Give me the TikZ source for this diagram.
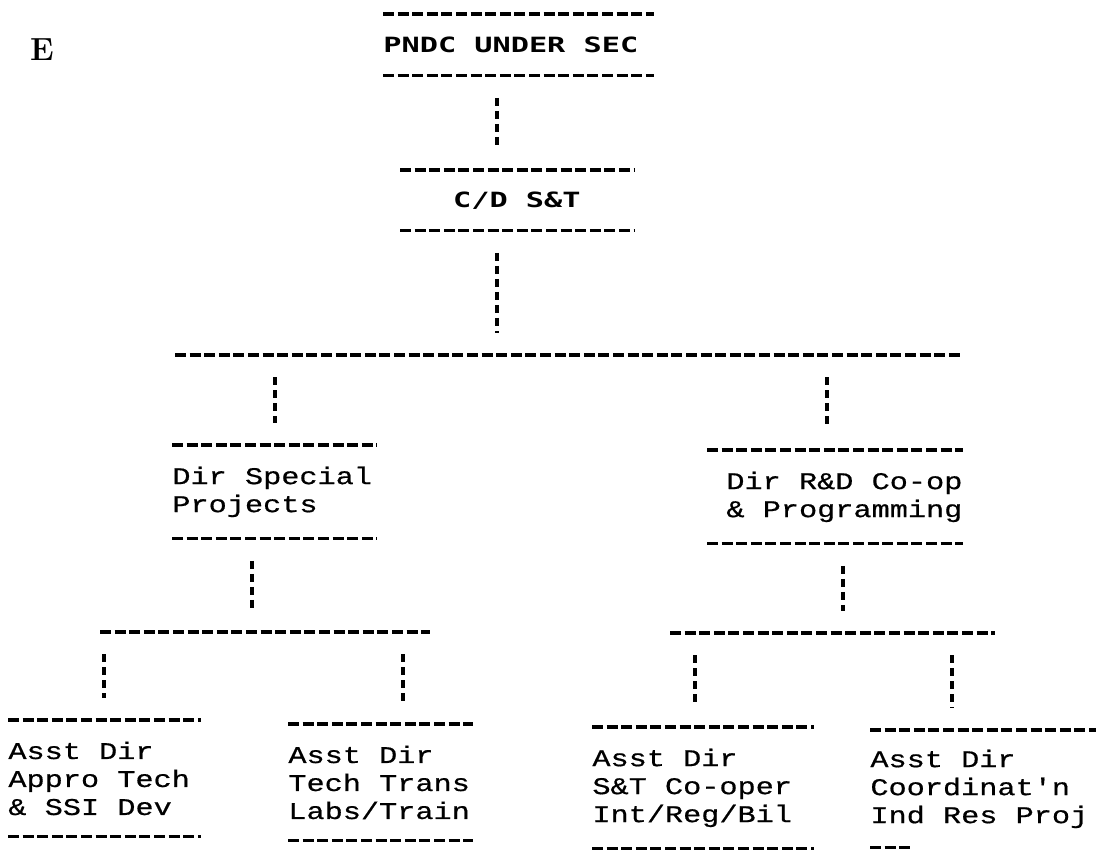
\documentclass[tikz,border=0pt]{standalone}
\usepackage{fontspec}
\newfontfamily\printfont[FakeStretch=1.26, FakeBold=0.6]{Liberation Mono}
\newfontfamily\headfont[FakeStretch=1.44]{DejaVu Sans Mono}
\begin{document}
\begin{tikzpicture}[x=0.5pt, y=-0.5pt,
  rule/.style={line width=1.6pt, dash pattern=on 5.5pt off 1.8pt},
  link/.style={line width=1.6pt, dash pattern=on 4pt off 2.5pt, shorten <=11pt, shorten >=11pt},
  post/.style={anchor=north west, inner xsep=0pt, inner ysep=0pt, align=left,
    font=\printfont\fontsize{12}{14}\selectfont, execute at begin node={\spaceskip=9.1pt\relax}},
  head/.style={post, font=\headfont\bfseries\fontsize{10.5}{13}\selectfont}]
\useasboundingbox (0,0) rectangle (1096,853);
\node[font=\bfseries\fontsize{16}{18}\selectfont] (mark) at (42,50) {E};
\node[head, text width=135pt, minimum height=30.5pt] (pndc) at (383,14) {PNDC UNDER SEC};
\node[head, align=center, text width=116.5pt, minimum height=30pt] (cd) at (400,170) {C/D S\&T};
\node[post, text width=102pt, minimum height=46.5pt] (spec) at (172,445) {Dir Special\\Projects};
\node[post, align=right, text width=127.5pt, minimum height=46.5pt] (rd) at (707,450) {Dir R\&D Co-op\\\& Programming};
\node[post, text width=96pt, minimum height=58pt] (appro) at (8,720) {Asst Dir\\Appro Tech\\\& SSI Dev};
\node[post, text width=92pt, minimum height=58pt] (trans) at (288,724) {Asst Dir\\Tech Trans\\Labs/Train};
\node[post, text width=110.5pt, minimum height=60.5pt] (coop) at (592,727) {Asst Dir\\S\&T Co-oper\\Int/Reg/Bil};
\node[post, text width=113pt, minimum height=58.5pt] (coord) at (870,730) {Asst Dir\\Coordinat'n\\Ind Res Proj};
\foreach \n in {pndc,cd,spec,rd,appro,trans,coop,coord}
  \draw[rule] (\n.north west) -- (\n.north east);
\foreach \n in {pndc,cd,spec,rd,appro,trans,coop}
  \draw[rule] (\n.south west) -- (\n.south east);
\draw[rule] (coord.south west) -- ++(40,0);
\coordinate (hub1) at (497,355);
\coordinate (hub2) at (252,632);
\coordinate (hub3) at (843,633);
\coordinate (d1) at (275,355);
\coordinate (d2) at (827,355);
\coordinate (d3) at (104,632);
\coordinate (d4) at (403,632);
\coordinate (d5) at (695,633);
\coordinate (d6) at (952,633);
\draw[rule] (175,355) -- (962,355);
\draw[rule] (100,632) -- (430,632);
\draw[rule] (670,633) -- (995,633);
\draw[link] (pndc.south -| hub1) -- (cd.north -| hub1);
\draw[link] (cd.south -| hub1) -- (hub1);
\draw[link] (d1) -- (spec.north -| d1);
\draw[link] (d2) -- (rd.north -| d2);
\draw[link] (spec.south -| hub2) -- (hub2);
\draw[link] (rd.south -| hub3) -- (hub3);
\draw[link] (d3) -- (appro.north -| d3);
\draw[link] (d4) -- (trans.north -| d4);
\draw[link] (d5) -- (coop.north -| d5);
\draw[link] (d6) -- (coord.north -| d6);
\end{tikzpicture}
\end{document}
